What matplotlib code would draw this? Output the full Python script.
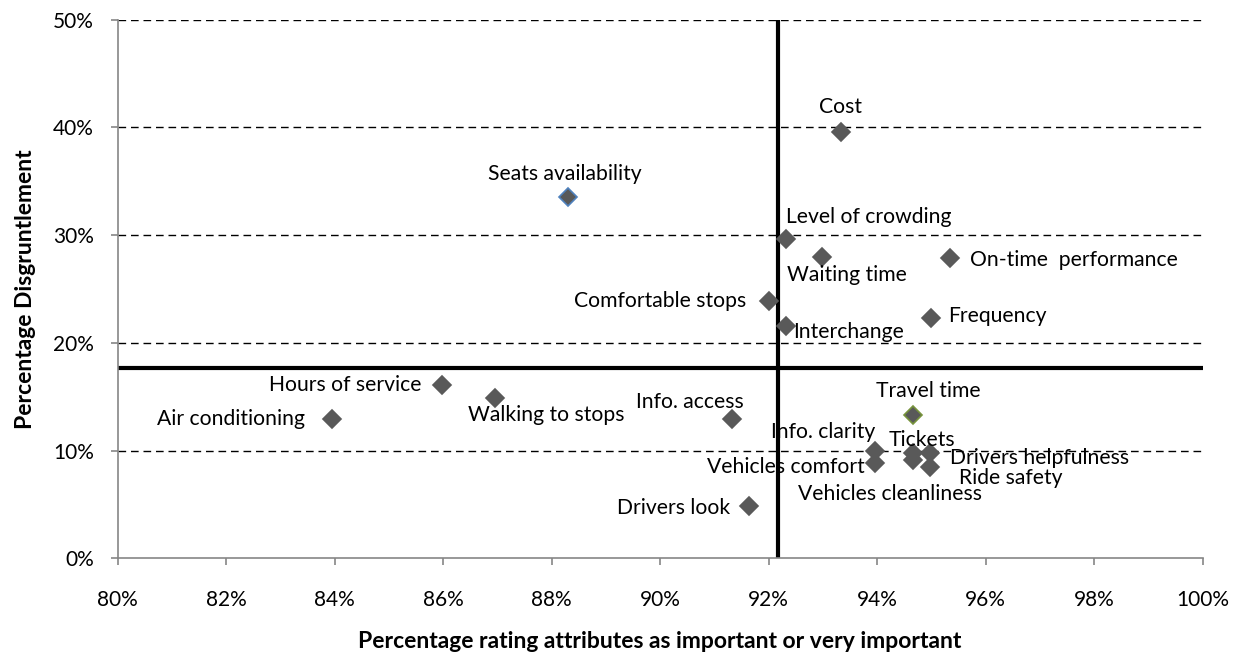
import matplotlib
matplotlib.use("Agg")
import matplotlib.pyplot as plt
from matplotlib.ticker import FuncFormatter, MultipleLocator

plt.rcParams['font.family'] = ['Lato', 'DejaVu Sans']

# ---- data (fractions) ----
attributes = ["Cost", "Seats availability", "Level of crowding", "Waiting time",
              "On-time  performance", "Comfortable stops", "Interchange", "Frequency",
              "Hours of service", "Walking to stops", "Air conditioning", "Info. access",
              "Travel time", "Info. clarity", "Vehicles comfort", "Tickets",
              "Vehicles cleanliness", "Drivers helpfulness", "Ride safety", "Drivers look"]
importance = [0.9333, 0.8831, 0.9233, 0.9299, 0.9534, 0.9200, 0.9233, 0.9500,
              0.8598, 0.8696, 0.8395, 0.9132, 0.9466, 0.9396, 0.9396, 0.9466,
              0.9466, 0.9497, 0.9497, 0.9164]
disgruntlement = [0.396, 0.335, 0.296, 0.280, 0.279, 0.239, 0.216, 0.223,
                  0.1605, 0.149, 0.129, 0.1296, 0.133, 0.100, 0.089, 0.098,
                  0.091, 0.098, 0.085, 0.049]
mean_importance = 0.9218
mean_disgruntlement = 0.1765

# ---- label layout (pixel offsets, alignment) ----
label_layout = {
    "Cost": (0, 25, "center"),
    "Seats availability": (-4, 23, "center"),
    "Level of crowding": (0, 22, "left"),
    "Waiting time": (25, -18, "center"),
    "On-time  performance": (20, -2, "left"),
    "Comfortable stops": (-22, 0, "right"),
    "Interchange": (7, -6, "left"),
    "Frequency": (17, 2, "left"),
    "Hours of service": (-20, 0, "right"),
    "Walking to stops": (-27, -17, "left"),
    "Air conditioning": (-27, 0, "right"),
    "Info. access": (-42, 17, "center"),
    "Travel time": (15, 24, "center"),
    "Info. clarity": (-52, 19, "center"),
    "Vehicles comfort": (-10, -4, "right"),
    "Tickets": (9, 13, "center"),
    "Vehicles cleanliness": (-23, -34, "center"),
    "Drivers helpfulness": (20, -5, "left"),
    "Ride safety": (29, -11, "left"),
    "Drivers look": (-19, -2, "right"),
}
edge_colors = {"Seats availability": "#4F81BD", "Travel time": "#77933C"}

LABEL_FS = 15.2
TICK_FS = 15
AXIS_FS = 16.5

fig = plt.figure(figsize=(12.45, 6.57), dpi=100)
ax = fig.add_axes([0.0944, 0.150, 0.8715, 0.8203])

ax.set_xlim(0.80, 1.00)
ax.set_ylim(0.0, 0.50)
ax.xaxis.set_major_locator(MultipleLocator(0.02))
ax.yaxis.set_major_locator(MultipleLocator(0.10))
ax.xaxis.set_major_formatter(FuncFormatter(lambda v, p: f"{v*100:.0f}%"))
ax.yaxis.set_major_formatter(FuncFormatter(lambda v, p: f"{v*100:.0f}%"))

for yv in [0.1, 0.2, 0.3, 0.4, 0.5]:
    ax.axhline(yv, color="black", lw=1.0, ls=(0, (5.5, 3.5)), zorder=1)

ax.axvline(mean_importance, color="black", lw=3, zorder=2)
ax.axhline(mean_disgruntlement, color="black", lw=3, zorder=2)

for name, x, y in zip(attributes, importance, disgruntlement):
    ec = edge_colors.get(name, "#595959")
    ax.plot([x], [y], marker="D", ms=9.5, color="#595959", mec=ec, mew=1.2,
            ls="none", zorder=3)
    dx, dy, ha = label_layout[name]
    ax.annotate(name, (x, y), xytext=(dx, dy), textcoords="offset pixels",
                ha=ha, va="center", fontsize=LABEL_FS, color="black", zorder=4)

for s in ["top", "right"]:
    ax.spines[s].set_visible(False)
for s in ["left", "bottom"]:
    ax.spines[s].set_color("#868686")
    ax.spines[s].set_linewidth(1.2)
ax.tick_params(axis="both", direction="out", length=5, width=1.2, color="#868686",
               labelsize=TICK_FS, labelcolor="black")
ax.tick_params(axis="y", pad=12)
ax.tick_params(axis="x", pad=18)

ax.set_xlabel("Percentage rating attributes as important or very important",
              fontsize=AXIS_FS, fontweight="bold", labelpad=15)
ax.set_ylabel("Percentage Disgruntlement", fontsize=AXIS_FS, fontweight="bold", labelpad=12)

fig.savefig("out.png", dpi=100)
